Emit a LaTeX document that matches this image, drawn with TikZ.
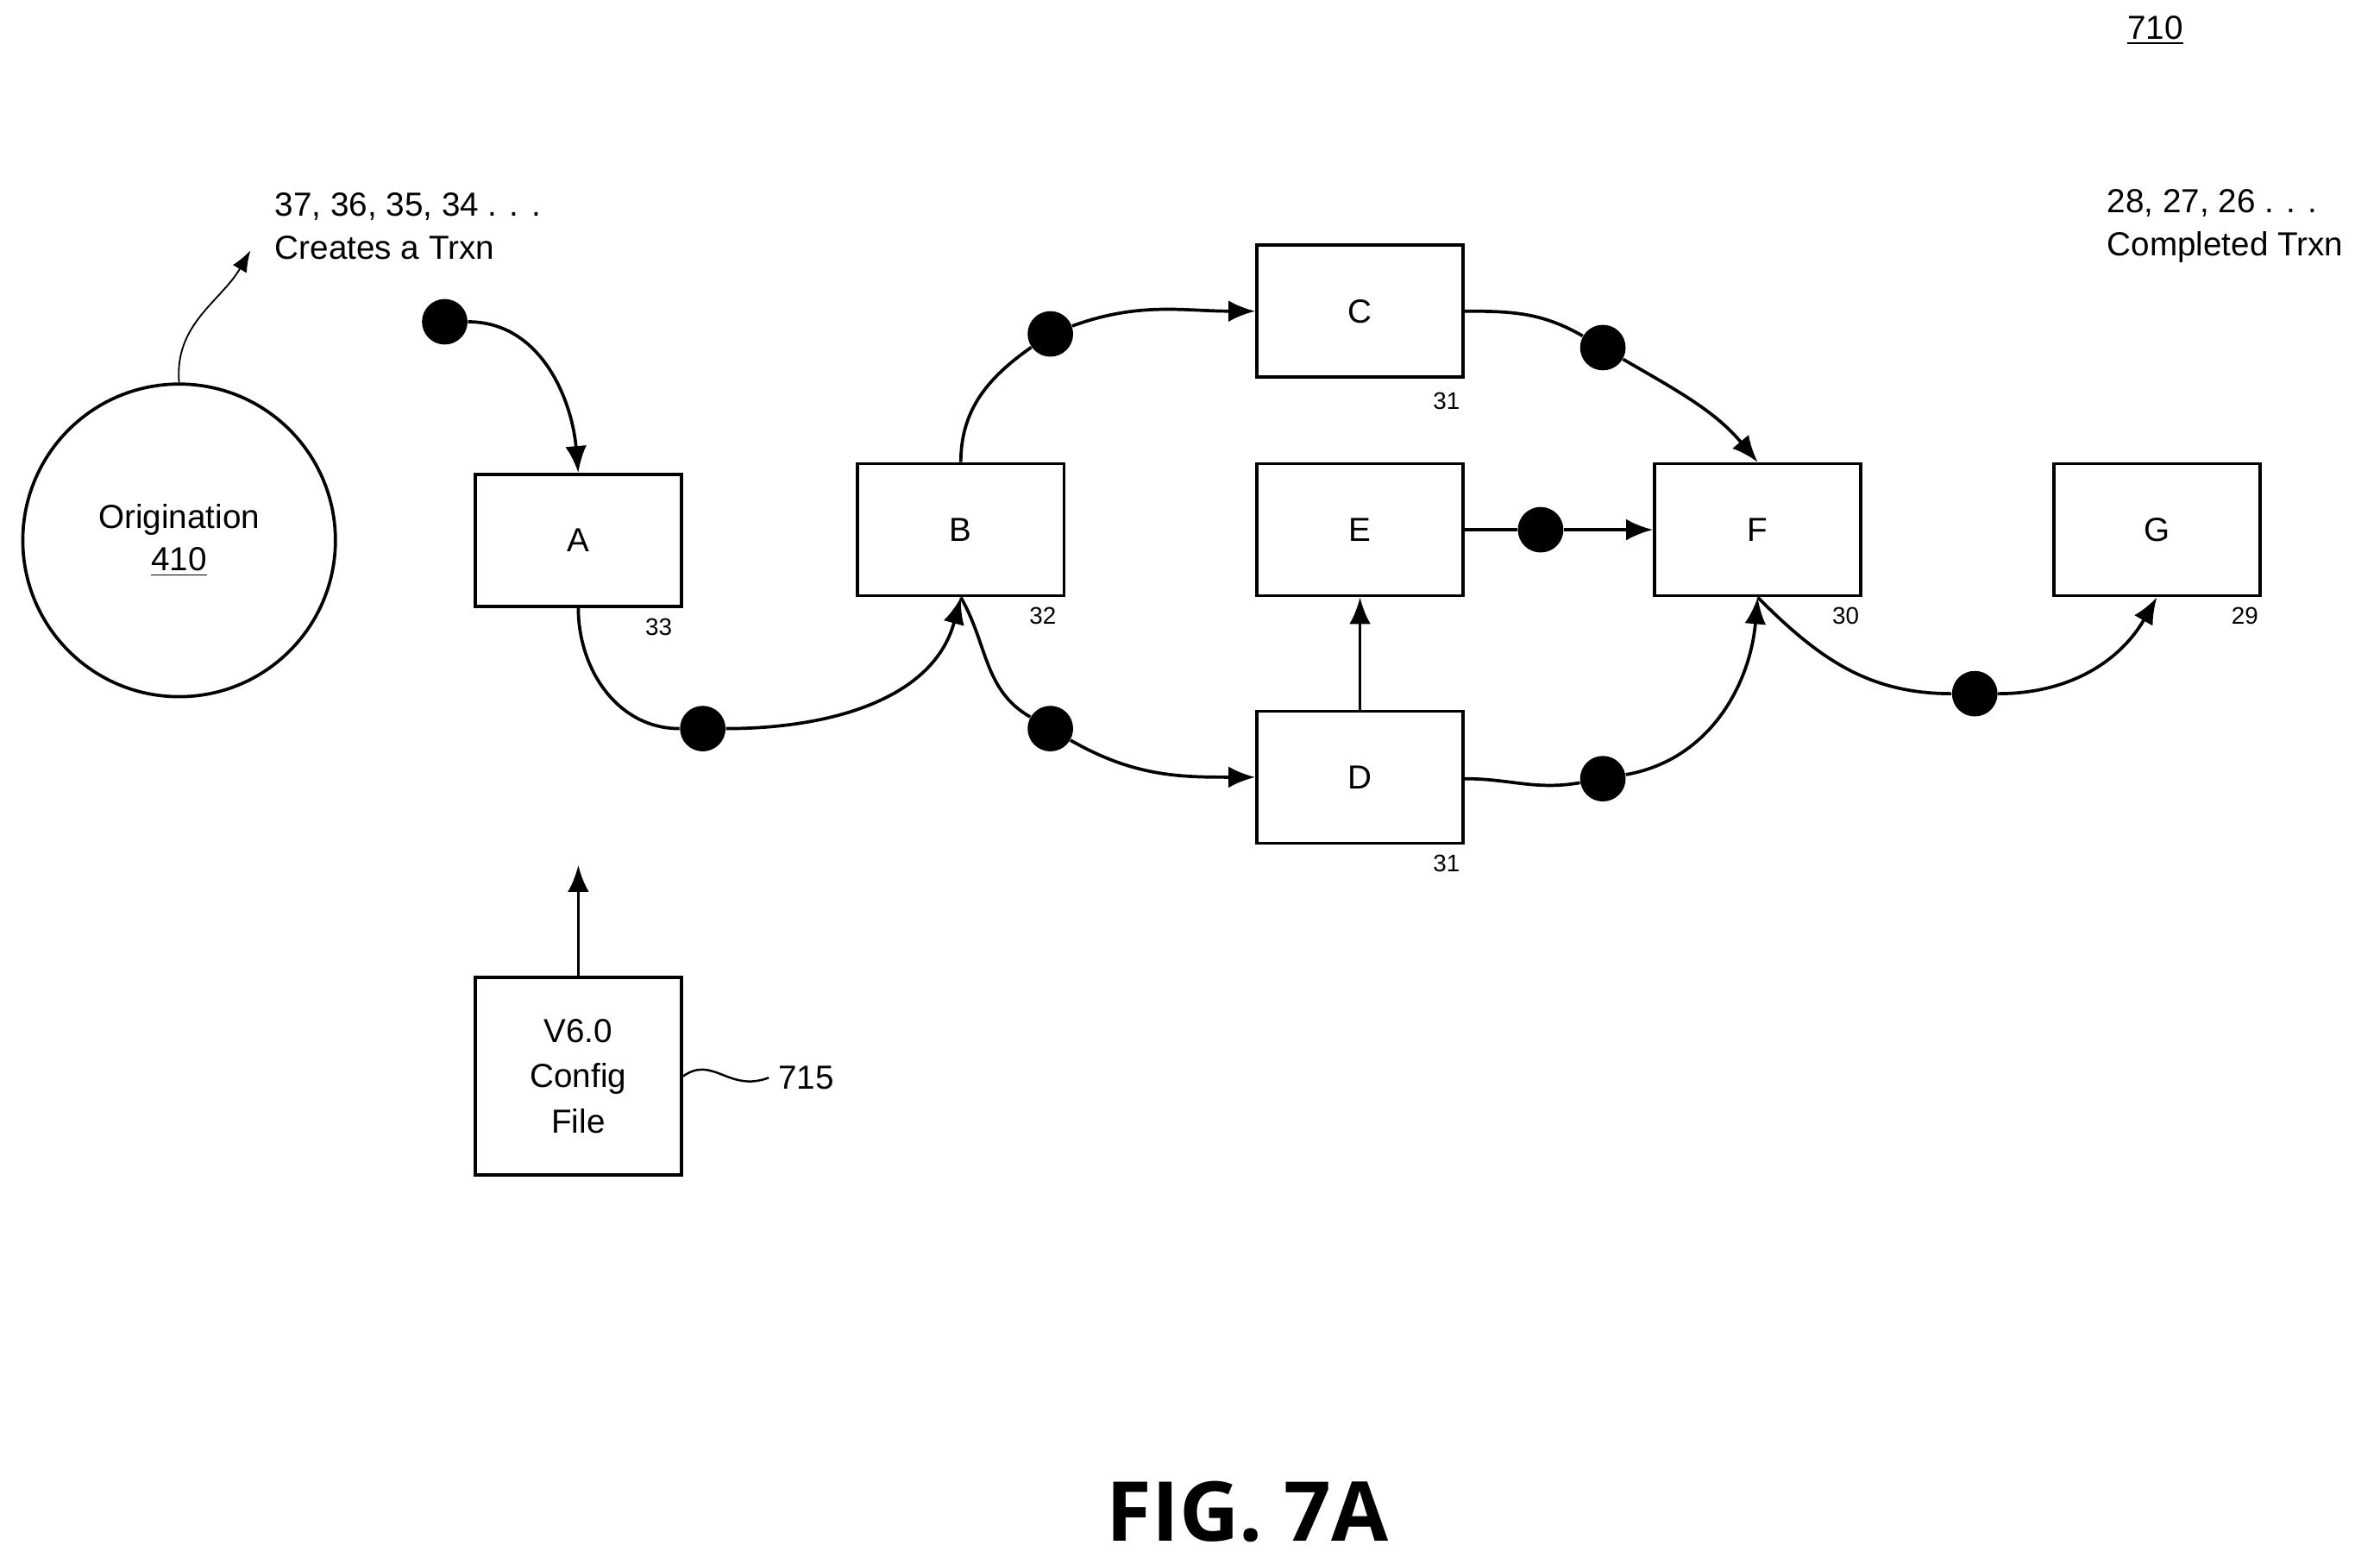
\documentclass[tikz,border=0pt]{standalone}
\usepackage{fontspec}
\setmainfont{Liberation Sans}
\newfontfamily\figfont{Open Sans}
\usetikzlibrary{arrows.meta,decorations.pathmorphing}
\begin{document}
\begin{tikzpicture}[x=0.02cm,y=-0.02cm,
  box/.style={draw,line width=1.2pt,minimum width=2.72cm,minimum height=1.74cm,inner sep=0pt,font=\fontsize{12.5}{15}\selectfont},
  dot/.style={circle,fill=black,minimum size=0.6cm,inner sep=0pt},
  lbl/.style={font=\fontsize{9}{11}\selectfont},
  txt/.style={font=\fontsize{12.5}{16}\selectfont,align=left,anchor=west},
  con/.style={line width=1.2pt},
  arr/.style={line width=1.2pt,-{Latex[length=10pt,width=8pt]}}]
\useasboundingbox (0,0) rectangle (1568,1030);
\node[draw,circle,line width=1.2pt,minimum size=4.12cm,align=center,font=\fontsize{12.5}{16}\selectfont] (orig) at (118,356) {Origination\\\underline{410}};
\node[txt] (t1) at (175,149) {37, 36, 35, 34 . . .\\Creates a Trxn};
\node[txt] (t2) at (1382,149) {28, 27, 26 . . .\\Completed Trxn};
\node[font=\fontsize{12.5}{15}\selectfont] (n710) at (1420,20) {\underline{710}};
\coordinate (oa) at (165,165);
\draw[line width=0.6pt,-{Latex[length=8pt,width=6pt]}] (orig.north) to[out=95,in=240] (oa);

\node[box] (A) at (381,356) {A};
\node[box] (B) at (633,349) {B};
\node[box] (C) at (896,205) {C};
\node[box] (E) at (896,349) {E};
\node[box] (D) at (896,512) {D};
\node[box] (F) at (1158,349) {F};
\node[box] (G) at (1421,349) {G};
\node[box,minimum height=2.6cm,align=center,font=\fontsize{12.5}{17}\selectfont] (cfg) at (381,709) {V6.0\\Config\\File};
\node[lbl] at (434,413) {33};
\node[lbl] at (687,406) {32};
\node[lbl] at (953,264) {31};
\node[lbl] at (953,569) {31};
\node[lbl] at (1216,406) {30};
\node[lbl] at (1479,406) {29};
\node[font=\fontsize{12.5}{15}\selectfont] (n715) at (531,710) {715};
\draw[line width=0.8pt] (cfg.east) .. controls (470,695) and (480,720) .. (n715.west);
\coordinate (cfgtip) at (381,570);
\draw[arr] (cfg.north) -- (cfgtip);
\node[font=\figfont\bfseries\fontsize{31}{36}\selectfont] (fig) at (822,996) {FIG. 7A};

\node[dot] (d0) at (293,212) {};
\node[dot] (d1) at (463,480) {};
\node[dot] (d2) at (692,220) {};
\node[dot] (d3) at (1056,229) {};
\node[dot] (d4) at (1015,349) {};
\node[dot] (d5) at (692,480) {};
\node[dot] (d6) at (1056,513) {};
\node[dot] (d7) at (1301,457) {};

\draw[arr] (d0) to[out=0,in=95] (A.north);
\draw[con] (A.south) to[out=-90,in=180] (d1);
\draw[arr] (d1) to[out=0,in=-105] (B.south);
\draw[con] (B.north) to[out=90,in=215] (d2);
\draw[arr] (d2) to[out=20,in=180] (C.west);
\draw[con] (C.east) to[out=0,in=150] (d3);
\draw[arr] (d3) to[out=-30,in=130] (F.north);
\draw[con] (E.east) -- (d4);
\draw[arr] (d4) -- (F.west);
\draw[arr] (D.north) -- (E.south);
\draw[con] (B.south) to[out=-60,in=150] (d5);
\draw[arr] (d5) to[out=-30,in=180] (D.west);
\draw[con] ([yshift=-0.02cm]D.east) to[out=0,in=190] (d6);
\draw[arr] (d6) to[out=10,in=-95] (F.south);
\draw[con] (F.south) to[out=-45,in=180] (d7);
\draw[arr] (d7) to[out=0,in=-120] (G.south);
\end{tikzpicture}
\end{document}
